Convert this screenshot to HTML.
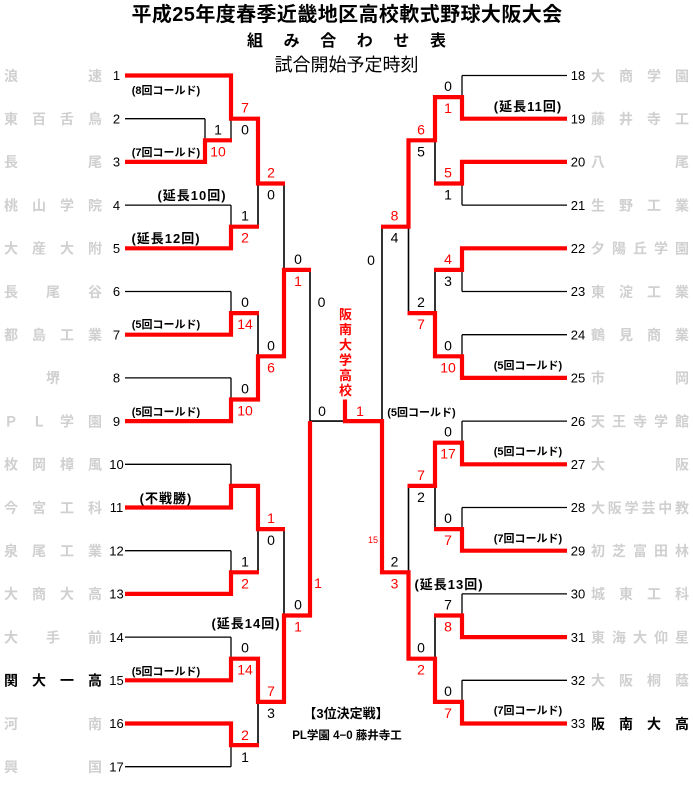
<!DOCTYPE html>
<html><head><meta charset="utf-8">
<style>
html,body{margin:0;padding:0;background:#fff;}
svg{display:block;}
.n{font-family:"Liberation Sans",sans-serif;font-size:13px;fill:#000;text-anchor:middle;}
.s{font-family:"Liberation Sans",sans-serif;font-size:14px;fill:#000;text-anchor:middle;}
.r{fill:#ff0000;}
.nm{font-family:"Liberation Sans","Noto Sans CJK JP",sans-serif;font-size:14px;font-weight:bold;fill:#d0d0d0;}
.nb{fill:#000;}
.a{font-family:"Liberation Sans","Noto Sans CJK JP",sans-serif;font-size:11px;font-weight:bold;fill:#000;text-anchor:middle;}
.e{font-family:"Liberation Sans","Noto Sans CJK JP",sans-serif;font-size:13px;font-weight:bold;fill:#000;text-anchor:middle;letter-spacing:1px;}
.t{font-family:"Liberation Sans","Noto Sans CJK JP",sans-serif;fill:#000;}
</style></head>
<body>
<svg width="693" height="790" viewBox="0 0 693 790" xmlns="http://www.w3.org/2000/svg">
<!-- titles -->
<text class="t" x="347" y="21" font-size="20" font-weight="bold" text-anchor="middle" letter-spacing="0.4">平成25年度春季近畿地区高校軟式野球大阪大会</text>
<text class="t" x="247 283.6 320.2 356.8 393.4 430" y="46" font-size="16" font-weight="bold">組み合わせ表</text>
<text class="t" x="346.5" y="71" font-size="18" text-anchor="middle">試合開始予定時刻</text>

<!-- black skeleton -->
<g stroke="#000" stroke-width="1.3" fill="none">
<path d="M125 118.7H205M125 161.9H205M125 205.1H231M125 248.3H231M125 291.5H231M125 334.7H231M125 377.9H231M125 421.1H231M125 464.3H231M125 507.5H231M125 550.7H231M125 593.9H231M125 637.1H231M125 680.3H231M125 723.5H231M125 766.7H231"/>
<path d="M567 75.5H462M567 118.7H462M567 161.9H462M567 205.1H462M567 248.3H462M567 291.5H462M567 334.7H462M567 377.9H462M567 421.1H462M567 464.3H462M567 507.5H462M567 550.7H462M567 593.9H462M567 637.1H462M567 680.3H462M567 723.5H462"/>
<path d="M205 118.7V161.9M231 75.5V140.3M231 205.1V248.3M231 291.5V334.7M231 377.9V421.1M231 464.3V507.5M231 550.7V593.9M231 637.1V680.3M231 723.5V766.7"/>
<path d="M462 75.5V118.7M462 161.9V205.1M462 248.3V291.5M462 334.7V377.9M462 421.1V464.3M462 507.5V550.7M462 593.9V637.1M462 680.3V723.5"/>
</g>
<g stroke="#000" stroke-width="1.6" fill="none">
<path d="M258 118.7V226.7M258 313.1V399.5M258 485.9V572.3M258 658.7V745.1M284 183.5V356.3M284 529.1V701.9M310 269.9V615.5M310 421.1H382"/>
<path d="M435 97.1V183.5M435 269.9V356.3M435 442.7V529.1M435 615.5V701.9M408.5 140.3V313.1M408.5 485.9V658.7M382 226.7V572.3"/>
</g>

<!-- red winner paths -->
<g stroke="#ff0000" stroke-width="4.2" fill="none" stroke-linejoin="miter" stroke-linecap="butt">
<polyline points="125,75.5 231,75.5 231,118.7 258,118.7 258,183.5 285,183.5"/>
<polyline points="125,161.9 205,161.9 205,140.3 232,140.3"/>
<polyline points="125,248.3 231,248.3 231,226.7 259,226.7"/>
<polyline points="125,334.7 231,334.7 231,313.1 259,313.1"/>
<polyline points="125,421.1 231,421.1 231,399.5 258,399.5 258,356.3 284,356.3 284,269.9 311,269.9"/>
<polyline points="125,507.5 231,507.5 231,485.9 258,485.9 258,529.1 285,529.1"/>
<polyline points="125,593.9 231,593.9 231,572.3 259,572.3"/>
<polyline points="125,680.3 231,680.3 231,658.7 258,658.7 258,701.9 284,701.9 284,615.5 310,615.5 310,421.1"/>
<polyline points="125,723.5 231,723.5 231,745.1 259,745.1"/>
<polyline points="567,118.7 462,118.7 462,97.1 435,97.1 435,140.3 408.5,140.3 408.5,226.7 381,226.7"/>
<polyline points="567,161.9 462,161.9 462,183.5 434,183.5"/>
<polyline points="567,248.3 462,248.3 462,269.9 434,269.9"/>
<polyline points="567,377.9 462,377.9 462,356.3 435,356.3 435,313.1 407.5,313.1"/>
<polyline points="567,464.3 462,464.3 462,442.7 435,442.7 435,485.9 407.5,485.9"/>
<polyline points="567,550.7 462,550.7 462,529.1 434,529.1"/>
<polyline points="567,637.1 462,637.1 462,615.5 434,615.5"/>
<polyline points="567,723.5 462,723.5 462,701.9 435,701.9 435,658.7 408.5,658.7 408.5,572.3 382,572.3 382,421.1 345,421.1 345,399.5"/>
</g>

<!-- left team numbers -->
<text class="n" x="116.5" y="80.2">1</text>
<text class="n" x="116.5" y="123.4">2</text>
<text class="n" x="116.5" y="166.6">3</text>
<text class="n" x="116.5" y="209.8">4</text>
<text class="n" x="116.5" y="253">5</text>
<text class="n" x="116.5" y="296.2">6</text>
<text class="n" x="116.5" y="339.4">7</text>
<text class="n" x="116.5" y="382.6">8</text>
<text class="n" x="116.5" y="425.8">9</text>
<text class="n" x="116.5" y="469">10</text>
<text class="n" x="116.5" y="512.2">11</text>
<text class="n" x="116.5" y="555.4">12</text>
<text class="n" x="116.5" y="598.6">13</text>
<text class="n" x="116.5" y="641.8">14</text>
<text class="n" x="116.5" y="685">15</text>
<text class="n" x="116.5" y="728.2">16</text>
<text class="n" x="116.5" y="771.4">17</text>
<!-- right team numbers -->
<text class="n" x="578" y="80.2">18</text>
<text class="n" x="578" y="123.4">19</text>
<text class="n" x="578" y="166.6">20</text>
<text class="n" x="578" y="209.8">21</text>
<text class="n" x="578" y="253">22</text>
<text class="n" x="578" y="296.2">23</text>
<text class="n" x="578" y="339.4">24</text>
<text class="n" x="578" y="382.6">25</text>
<text class="n" x="578" y="425.8">26</text>
<text class="n" x="578" y="469">27</text>
<text class="n" x="578" y="512.2">28</text>
<text class="n" x="578" y="555.4">29</text>
<text class="n" x="578" y="598.6">30</text>
<text class="n" x="578" y="641.8">31</text>
<text class="n" x="578" y="685">32</text>
<text class="n" x="578" y="728.2">33</text>

<!-- left names -->
<text class="nm" x="4 88" y="80.8">浪速</text>
<text class="nm" x="4 32 60 88" y="124">東百舌鳥</text>
<text class="nm" x="4 88" y="167.2">長尾</text>
<text class="nm" x="4 32 60 88" y="210.4">桃山学院</text>
<text class="nm" x="4 32 60 88" y="253.6">大産大附</text>
<text class="nm" x="4 46 88" y="296.8">長尾谷</text>
<text class="nm" x="4 32 60 88" y="340">都島工業</text>
<text class="nm" x="46" y="383.2">堺</text>
<text class="nm" x="4 32 60 88" y="426.4">ＰＬ学園</text>
<text class="nm" x="4 32 60 88" y="469.6">枚岡樟風</text>
<text class="nm" x="4 32 60 88" y="512.8">今宮工科</text>
<text class="nm" x="4 32 60 88" y="556">泉尾工業</text>
<text class="nm" x="4 32 60 88" y="599.2">大商大高</text>
<text class="nm" x="4 46 88" y="642.4">大手前</text>
<text class="nm nb" x="4 32 60 88" y="685.6">関大一高</text>
<text class="nm" x="4 88" y="728.8">河南</text>
<text class="nm" x="4 88" y="772">興国</text>
<!-- right names -->
<text class="nm" x="591 619 647 675" y="80.8">大商学園</text>
<text class="nm" x="591 619 647 675" y="124">藤井寺工</text>
<text class="nm" x="591 675" y="167.2">八尾</text>
<text class="nm" x="591 619 647 675" y="210.4">生野工業</text>
<text class="nm" x="591 612 633 654 675" y="253.6">夕陽丘学園</text>
<text class="nm" x="591 619 647 675" y="296.8">東淀工業</text>
<text class="nm" x="591 619 647 675" y="340">鶴見商業</text>
<text class="nm" x="591 675" y="383.2">市岡</text>
<text class="nm" x="591 612 633 654 675" y="426.4">天王寺学館</text>
<text class="nm" x="591 675" y="469.6">大阪</text>
<text class="nm" x="591 607.8 624.6 641.4 658.2 675" y="512.8">大阪学芸中教</text>
<text class="nm" x="591 612 633 654 675" y="556">初芝富田林</text>
<text class="nm" x="591 619 647 675" y="599.2">城東工科</text>
<text class="nm" x="591 612 633 654 675" y="642.4">東海大仰星</text>
<text class="nm" x="591 619 647 675" y="685.6">大阪桐蔭</text>
<text class="nm nb" x="591 619 647 675" y="728.8">阪南大高</text>

<!-- left scores -->
<text class="s" x="218" y="134.3">1</text><text class="s r" x="218" y="156.3">10</text>
<text class="s r" x="245" y="112.7">7</text><text class="s" x="245" y="134.7">0</text>
<text class="s" x="245" y="220.7">1</text><text class="s r" x="245" y="242.7">2</text>
<text class="s r" x="271" y="177.5">2</text><text class="s" x="271" y="199.5">0</text>
<text class="s" x="245" y="307.1">0</text><text class="s r" x="245" y="329.1">14</text>
<text class="s" x="245" y="393.5">0</text><text class="s r" x="245" y="415.5">10</text>
<text class="s" x="271" y="350.3">0</text><text class="s r" x="271" y="372.3">6</text>
<text class="s" x="298" y="263.9">0</text><text class="s r" x="298" y="285.9">1</text>
<text class="s" x="245" y="566.3">1</text><text class="s r" x="245" y="588.3">2</text>
<text class="s r" x="271" y="523.1">1</text><text class="s" x="271" y="545.1">0</text>
<text class="s" x="245" y="652.7">0</text><text class="s r" x="245" y="674.7">14</text>
<text class="s r" x="245" y="739.9">2</text><text class="s" x="245" y="761.9">1</text>
<text class="s r" x="271" y="695.9">7</text><text class="s" x="271" y="717.9">3</text>
<text class="s" x="298" y="609.5">0</text><text class="s r" x="298" y="631.5">1</text>
<text class="s" x="321.5" y="307">0</text><text class="s r" x="318" y="588">1</text>
<text class="s" x="322" y="416">0</text><text class="s r" x="360" y="416">1</text>
<!-- right scores -->
<text class="s" x="448" y="91.1">0</text><text class="s r" x="448" y="113.1">1</text>
<text class="s r" x="448" y="177.5">5</text><text class="s" x="448" y="199.5">1</text>
<text class="s r" x="421" y="134.3">6</text><text class="s" x="421" y="156.3">5</text>
<text class="s r" x="448" y="263.9">4</text><text class="s" x="448" y="285.9">3</text>
<text class="s" x="448" y="350.3">0</text><text class="s r" x="448" y="372.3">10</text>
<text class="s" x="421" y="307.1">2</text><text class="s r" x="421" y="329.1">7</text>
<text class="s r" x="394.5" y="220.7">8</text><text class="s" x="394.5" y="242.7">4</text>
<text class="s" x="448" y="436.7">0</text><text class="s r" x="448" y="458.7">17</text>
<text class="s" x="448" y="523.1">0</text><text class="s r" x="448" y="545.1">7</text>
<text class="s r" x="421" y="479.9">7</text><text class="s" x="421" y="501.9">2</text>
<text class="s" x="448" y="609.5">7</text><text class="s r" x="448" y="631.5">8</text>
<text class="s" x="448" y="695.9">0</text><text class="s r" x="448" y="717.9">7</text>
<text class="s" x="421" y="652.7">0</text><text class="s r" x="421" y="674.7">2</text>
<text class="s" x="394.5" y="566.3">2</text><text class="s r" x="394.5" y="588.3">3</text>
<text class="s" x="371" y="265">0</text>
<text x="373" y="543" style="font-family:'Liberation Sans',sans-serif;font-size:9px;fill:#ff0000;text-anchor:middle;">15</text>

<!-- annotations -->
<text class="a" x="166" y="94">(8回コールド)</text>
<text class="a" x="166" y="156">(7回コールド)</text>
<text class="e" x="192" y="200">(延長10回)</text>
<text class="e" x="166" y="243">(延長12回)</text>
<text class="a" x="166" y="328">(5回コールド)</text>
<text class="a" x="166" y="415.5">(5回コールド)</text>
<text class="e" x="166" y="503">(不戦勝)</text>
<text class="e" x="246" y="628">(延長14回)</text>
<text class="a" x="166" y="675">(5回コールド)</text>
<text class="e" x="528" y="111">(延長11回)</text>
<text class="a" x="528" y="369">(5回コールド)</text>
<text class="a" x="421.5" y="416">(5回コールド)</text>
<text class="a" x="528" y="455">(5回コールド)</text>
<text class="a" x="528" y="542">(7回コールド)</text>
<text class="e" x="449" y="589">(延長13回)</text>
<text class="a" x="528" y="714">(7回コールド)</text>

<!-- champion -->
<text font-family="Liberation Sans,Noto Sans CJK JP,sans-serif" font-size="13" font-weight="bold" fill="#ff0000" text-anchor="middle" x="345.5" y="319">阪</text>
<text font-family="Liberation Sans,Noto Sans CJK JP,sans-serif" font-size="13" font-weight="bold" fill="#ff0000" text-anchor="middle" x="345.5" y="334.2">南</text>
<text font-family="Liberation Sans,Noto Sans CJK JP,sans-serif" font-size="13" font-weight="bold" fill="#ff0000" text-anchor="middle" x="345.5" y="349.4">大</text>
<text font-family="Liberation Sans,Noto Sans CJK JP,sans-serif" font-size="13" font-weight="bold" fill="#ff0000" text-anchor="middle" x="345.5" y="364.6">学</text>
<text font-family="Liberation Sans,Noto Sans CJK JP,sans-serif" font-size="13" font-weight="bold" fill="#ff0000" text-anchor="middle" x="345.5" y="379.8">高</text>
<text font-family="Liberation Sans,Noto Sans CJK JP,sans-serif" font-size="13" font-weight="bold" fill="#ff0000" text-anchor="middle" x="345.5" y="395">校</text>

<!-- 3rd place -->
<text class="t" x="346" y="718" font-size="13" font-weight="bold" text-anchor="middle">【3位決定戦】</text>
<text class="t" x="347" y="739" font-size="11.5" font-weight="bold" text-anchor="middle">PL学園 4−0 藤井寺工</text>
</svg>
</body></html>
